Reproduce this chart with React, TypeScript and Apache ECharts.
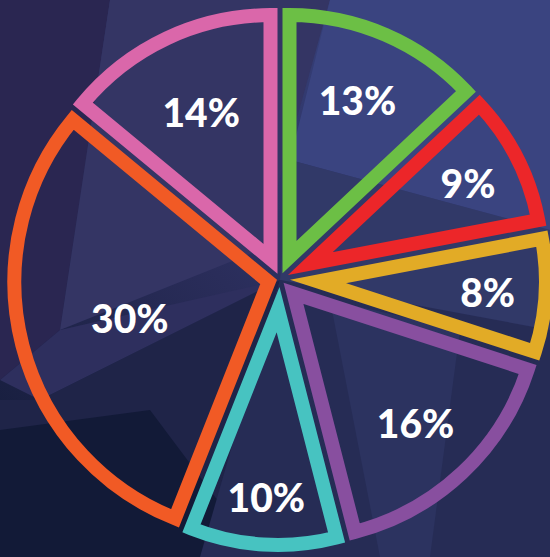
import React, { useEffect, useRef } from 'react';
import * as echarts from 'echarts';

// ---- data ----
const categories = ['Green', 'Red', 'Yellow', 'Purple', 'Teal', 'Orange', 'Pink'];
const values = [13, 9, 8, 16, 10, 30, 14];
const sliceColors = ['#6cbf45', '#ec2629', '#e2ab26', '#884f9f', '#47c3c1', '#f15a25', '#da67aa'];
// radial distance of each label from the pie centre (style only)
const labelDistances = [195, 211, 208, 198, 218, 155, 185];

// ---- style constants ----
const W = 550;
const H = 557;
const CX = 280;
const CY = 279;
const OUTER = 273; // outer edge of the outline stroke
const STROKE = 14;
const GAP = 5;

export default function App() {
  const ref = useRef<HTMLDivElement>(null);

  useEffect(() => {
    document.body.style.margin = '0';
    if (!ref.current) return;
    const chart = echarts.init(ref.current, undefined, { renderer: 'svg' });
    const total = values.reduce((a, b) => a + b, 0);
    const rMid = OUTER - STROKE / 2;

    const sliceSeries = values.map((v, i) => {
      const half = (v / total) * Math.PI;
      const offset = (GAP / 2 + STROKE / 2) / Math.sin(half);
      const style = {
        color: 'rgba(0,0,0,0)',
        borderColor: sliceColors[i],
        borderWidth: STROKE,
        borderJoin: 'miter',
        borderMiterLimit: 30,
      };
      const hidden = { color: 'rgba(0,0,0,0)', borderWidth: 0 };
      return {
        type: 'pie',
        center: [CX, CY],
        radius: rMid - offset,
        startAngle: 90,
        clockwise: true,
        selectedMode: 'single',
        selectedOffset: offset,
        silent: true,
        emphasis: { disabled: true },
        label: { show: false },
        labelLine: { show: false },
        data: values.map((val, j) => ({
          value: val,
          name: categories[j],
          selected: j === i,
          itemStyle: j === i ? style : hidden,
          select: { itemStyle: j === i ? style : hidden },
        })),
      };
    });

    const labelSeries = {
      type: 'pie',
      center: [CX, CY],
      radius: 400,
      startAngle: 90,
      clockwise: true,
      silent: true,
      z: 5,
      emphasis: { disabled: true },
      percentPrecision: 0,
      itemStyle: { color: 'rgba(0,0,0,0)', borderWidth: 0 },
      label: {
        show: true,
        position: 'inside',
        formatter: '{d}%',
        color: '#ffffff',
        fontFamily: 'Lato',
        fontWeight: 900,
        fontSize: 39,
      },
      labelLine: { show: false },
      labelLayout: (p: any) => {
        const i = p.dataIndex;
        const r = p.labelRect;
        const lx = r.x + r.width / 2;
        const ly = r.y + r.height / 2;
        const dist = Math.hypot(lx - CX, ly - CY) || 1;
        const k = labelDistances[i] / dist;
        return {
          x: CX + (lx - CX) * k,
          y: CY + (ly - CY) * k,
          align: 'center',
          verticalAlign: 'middle',
        };
      },
      data: values.map((v, j) => ({ value: v, name: categories[j] })),
    };

    const facet = (points: number[][], fill: string) => ({
      type: 'polygon',
      silent: true,
      z: -10,
      shape: { points },
      style: { fill },
    });

    chart.setOption({
      animation: false,
      backgroundColor: {
        type: 'linear',
        x: 0,
        y: 1,
        x2: 1,
        y2: 0,
        colorStops: [
          { offset: 0, color: '#111935' },
          { offset: 0.45, color: '#2a2d5a' },
          { offset: 1, color: '#3e4b8b' },
        ],
      },
      graphic: {
        elements: [
          facet([[0, 0], [110, 0], [60, 330], [0, 380]], '#2a2651'),
          facet([[110, 0], [330, 0], [260, 250], [60, 330]], '#343564'),
          facet([[330, 0], [550, 0], [550, 230], [290, 160]], '#3a4480'),
          facet([[290, 160], [550, 230], [550, 330], [280, 280]], '#313968'),
          facet([[0, 380], [60, 330], [280, 280], [40, 400]], '#2e2f5e'),
          facet([[0, 400], [40, 400], [280, 280], [200, 557], [0, 557]], '#1f2448'),
          facet([[0, 430], [150, 410], [260, 557], [0, 557]], '#121a37'),
          facet([[280, 280], [550, 330], [550, 557], [200, 557]], '#262c55'),
          facet([[330, 300], [460, 330], [430, 557], [380, 557]], '#2c3360'),
        ],
      },
      series: [...sliceSeries, labelSeries],
    });

    return () => chart.dispose();
  }, []);

  return <div ref={ref} style={{ width: W, height: H }} />;
}
